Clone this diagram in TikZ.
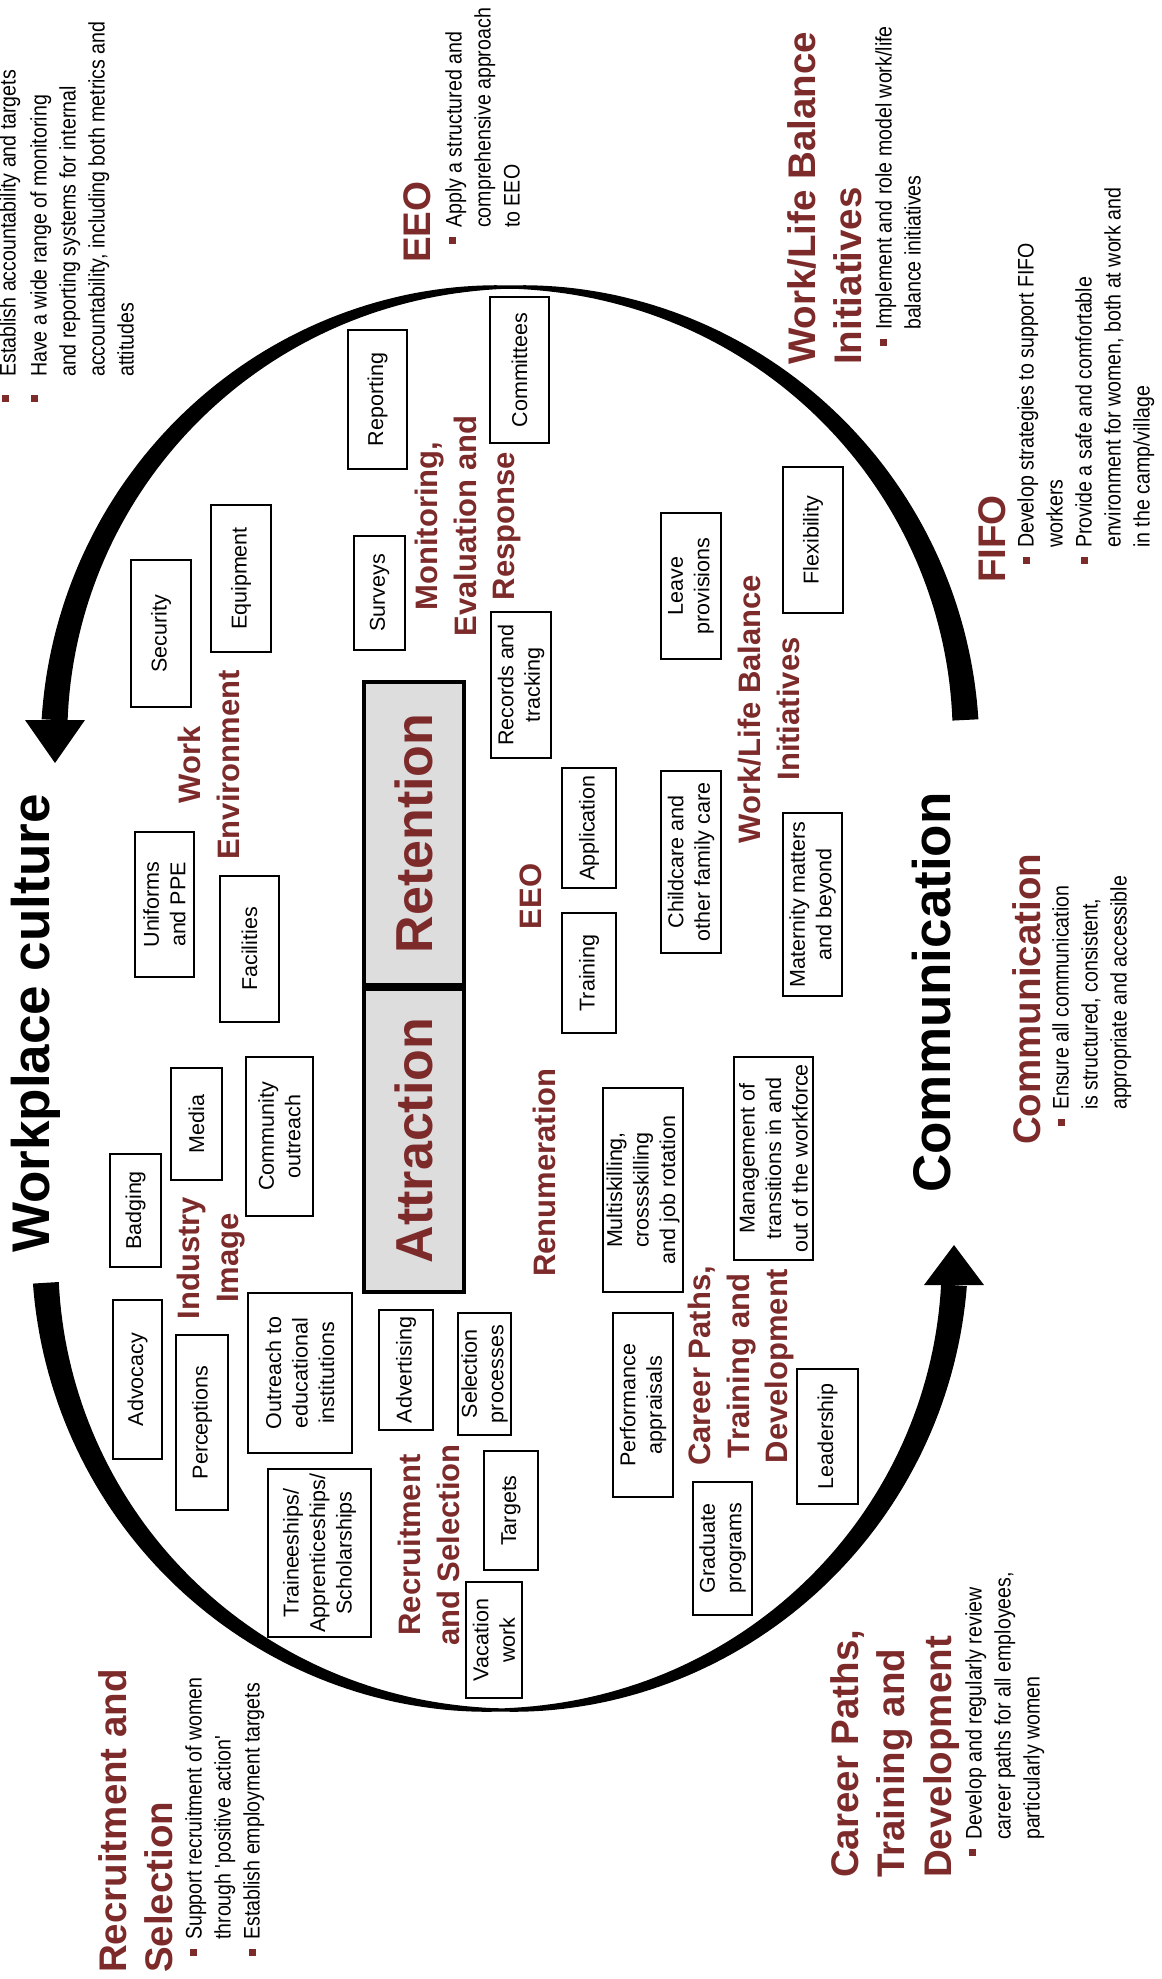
\documentclass[tikz,border=0pt]{standalone}
\usepackage{fontspec}
\setmainfont{Liberation Sans}
\newfontfamily\narrowfont[FakeStretch=0.87]{Liberation Sans}
\definecolor{hdred}{RGB}{125,42,42}
\definecolor{boxgrey}{RGB}{221,221,221}
\begin{document}
\begin{tikzpicture}[x=1pt,y=-1pt,
  declare function={ttop(\a)=3+23*pow((abs(\a+90)+0.01)/87,0.8); tbot(\a)=3+23*pow((abs(\a-90)+0.01)/87,0.8);},
  ibox/.style={draw, line width=2pt, fill=white, rotate=90, align=center, inner sep=0pt, font=\fontsize{21.5}{26.5}\selectfont},
  boxsz/.style 2 args={minimum width=#1pt, minimum height=#2pt},
  hin/.style={rotate=90, inner sep=0pt, align=center, text=hdred, font=\bfseries\fontsize{31}{38.5}\selectfont},
  hout/.style={rotate=90, inner sep=0pt, align=left, text=hdred, font=\bfseries\fontsize{38.5}{46.5}\selectfont},
  hbig/.style={rotate=90, inner sep=0pt, font=\bfseries\fontsize{53}{60}\selectfont},
  btext/.style={rotate=90, inner sep=0pt, align=left, font=\narrowfont\fontsize{22.5}{29}\selectfont},
  bul/.style={fill=hdred, minimum size=7pt, inner sep=0pt, rotate=90},
  corebox/.style={draw, line width=4pt, fill=boxgrey, rotate=90, inner sep=0pt, minimum width=303pt, minimum height=100pt, text=hdred, font=\bfseries\fontsize{52}{60}\selectfont}
]
\fill[white] (0,0) rectangle (1162,1979);
\path[use as bounding box] (0,0) rectangle (1162,1979);

% cycle arrows
\fill[black] plot[domain=-2.9:-177.1,samples=140] ({510+(456+0.5*ttop(\x))*cos(\x)},{743+(456+0.5*ttop(\x))*sin(\x)})
  -- plot[domain=-177.1:-2.9,samples=140] ({510+(456-0.5*ttop(\x))*cos(\x)},{743+(456-0.5*ttop(\x))*sin(\x)}) -- cycle;
\fill[black] (25,720) -- (85,720) -- (55,763) -- cycle;
\fill[black] plot[domain=176.5:3.8,samples=140] ({500+(455+0.5*tbot(\x))*cos(\x)},{1255+(455+0.5*tbot(\x))*sin(\x)})
  -- plot[domain=3.8:176.5,samples=140] ({500+(455-0.5*tbot(\x))*cos(\x)},{1255+(455-0.5*tbot(\x))*sin(\x)}) -- cycle;
\fill[black] (924,1285) -- (984,1285) -- (954,1245) -- cycle;

% core boxes
\node[corebox] (retention) at (413.5,833.5) {Retention};
\node[corebox] (attraction) at (413.5,1140.5) {Attraction};

% small boxes
\node[ibox, boxsz={139}{59}] (reporting) at (377.5,399.5) {Reporting};
\node[ibox, boxsz={146}{59}] (committees) at (519.5,370) {Committees};
\node[ibox, boxsz={147}{60}] (security) at (161,633.5) {Security};
\node[ibox, boxsz={147}{60}] (equipment) at (241,578.5) {Equipment};
\node[ibox, boxsz={145}{59}] (uniforms) at (164.5,904.5) {Uniforms\\and PPE};
\node[ibox, boxsz={146}{59}] (facilities) at (249.5,949) {Facilities};
\node[ibox, boxsz={114}{51}] (surveys) at (379.5,593) {Surveys};
\node[ibox, boxsz={146}{60}] (records) at (521,685) {Records and\\tracking};
\node[ibox, boxsz={120}{54}] (application) at (589,828) {Application};
\node[ibox, boxsz={120}{54}] (training) at (589,973) {Training};
\node[ibox, boxsz={146}{60}] (leave) at (691,586) {Leave\\provisions};
\node[ibox, boxsz={182}{60}] (childcare) at (691,862) {Childcare and\\other family care};
\node[ibox, boxsz={146}{60}] (flexibility) at (813,540) {Flexibility};
\node[ibox, boxsz={183}{59}] (maternity) at (812.5,904.5) {Maternity matters\\and beyond};
\node[ibox, boxsz={113}{51}] (badging) at (135.5,1210.5) {Badging};
\node[ibox, boxsz={112}{51}] (media) at (196.5,1124) {Media};
\node[ibox, boxsz={159}{67}] (community) at (279.5,1136.5) {Community\\outreach};
\node[ibox, boxsz={159}{49}] (advocacy) at (137.5,1379.5) {Advocacy};
\node[ibox, boxsz={175}{52}] (perceptions) at (202,1422.5) {Perceptions};
\node[ibox, boxsz={160}{104}] (outreach) at (300,1373) {Outreach to\\educational\\institutions};
\node[ibox, boxsz={168}{103}] (trainee) at (319.5,1553) {Traineeships/\\Apprenticeships/\\Scholarships};
\node[ibox, boxsz={120}{54}] (advertising) at (406,1370) {Advertising};
\node[ibox, boxsz={122}{53}] (selection) at (484.5,1374) {Selection\\processes};
\node[ibox, boxsz={119}{54}] (targets) at (511,1510.5) {Targets};
\node[ibox, boxsz={116}{56}] (vacation) at (494,1640) {Vacation\\work};
\node[ibox, boxsz={204}{80}] (multi) at (643,1190) {Multiskilling,\\crossskilling\\and job rotation};
\node[ibox, boxsz={184}{60}] (performance) at (643,1405) {Performance\\appraisals};
\node[ibox, boxsz={203}{79}] (management) at (773.5,1158.5) {Management of\\transitions in and\\out of the workforce};
\node[ibox, boxsz={133}{59}] (graduate) at (722.5,1548.5) {Graduate\\programs};
\node[ibox, boxsz={135}{61}] (leadership) at (827.5,1436.5) {Leadership};

% inner headings
\node[hin, anchor=north] (hwe) at (178,765) {Work\\Environment};
\node[hin, anchor=north] (hmer) at (415,526) {Monitoring,\\Evaluation and\\Response};
\node[hin, anchor=north] (hii) at (177,1258) {Industry\\Image};
\node[hin, anchor=north] (heeo) at (520,896.5) {EEO};
\node[hin, anchor=north] (hwlb) at (738,709) {Work/Life Balance\\Initiatives};
\node[hin, anchor=north] (hren) at (533,1172.5) {Renumeration};
\node[hin, anchor=north] (hcp) at (688,1366) {Career Paths,\\Training and\\Development};
\node[hin, anchor=north] (hrs) at (398,1545) {Recruitment\\and Selection};

% big black labels
\node[hbig, anchor=north] (workplace) at (11,1023.5) {Workplace culture};
\node[hbig, anchor=north] (communication) at (912,992.5) {Communication};

% outer headings
\node[hout, anchor=north west] (oeeo) at (403,263) {EEO};
\node[hout, anchor=north west] (owlb) at (787,365) {Work/Life Balance\\Initiatives};
\node[hout, anchor=north west] (ofifo) at (978,583) {FIFO};
\node[hout, anchor=north west] (ocom) at (1012,1145) {Communication};
\node[hout, anchor=north west] (ors) at (98,1973) {Recruitment and\\Selection};
\node[hout, anchor=north west] (ocp) at (830,1878) {Career Paths,\\Training and\\Development};

% bullet texts
\node[btext, anchor=north west] (tl1) at (-1,377) {Establish accountability and targets};
\node[bul] (tl1b) at (5,398) {};
\node[btext, anchor=north west] (tl2) at (30,377) {Have a wide range of monitoring\\and reporting systems for internal\\accountability, including both metrics and\\attitudes};
\node[bul] (tl2b) at (34,398) {};
\node[btext, anchor=north west] (eeot) at (445,228) {Apply a structured and\\comprehensive approach\\to EEO};
\node[bul] (eeob) at (452,240) {};
\node[btext, anchor=north west] (wlbt) at (875,330) {Implement and role model work/life\\balance initiatives};
\node[bul] (wlbb) at (883,342) {};
\node[btext, anchor=north west] (fifo1) at (1017,548) {Develop strategies to support FIFO\\workers};
\node[bul] (fifo1b) at (1026,560) {};
\node[btext, anchor=north west] (fifo2) at (1075,548) {Provide a safe and comfortable\\environment for women, both at work and\\in the camp/village};
\node[bul] (fifo2b) at (1084,560) {};
\node[btext, anchor=north west] (comt) at (1052,1110) {Ensure all communication\\is structured, consistent,\\appropriate and accessible};
\node[bul] (comb) at (1061,1122) {};
\node[btext, anchor=north west] (rs1) at (185,1940) {Support recruitment of women\\through \textquotesingle positive action\textquotesingle};
\node[bul] (rs1b) at (193,1952) {};
\node[btext, anchor=north west] (rs2) at (243,1940) {Establish employment targets};
\node[bul] (rs2b) at (252,1952) {};
\node[btext, anchor=north west] (cpt) at (965,1840) {Develop and regularly review\\career paths for all employees,\\particularly women};
\node[bul] (cpb) at (972,1852) {};
\end{tikzpicture}
\end{document}
